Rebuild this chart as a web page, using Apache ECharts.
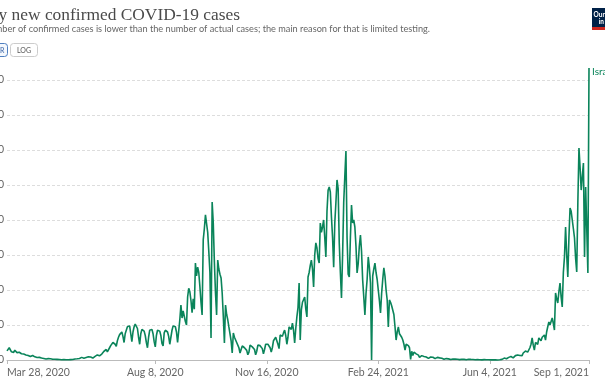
<!DOCTYPE html>
<html>
<head>
<meta charset="utf-8">
<script src="https://cdn.jsdelivr.net/npm/echarts@6/dist/echarts.min.js"></script>
<style>
html,body{margin:0;padding:0;background:#fff;}
#chart{width:605px;height:380px;}
</style>
</head>
<body>
<div id="chart"></div>
<script>
// ---- Data (Israel, daily new confirmed cases, from Mar 28, 2020 to Sep 1, 2021, one value per day) ----
const startDate = "2020-03-28";
const seriesName = "Israel";
const israelCases = [
  520, 600, 700, 640, 470, 520, 430,
  560, 480, 420, 380, 440, 510, 360,
  300, 340, 370, 290, 320, 260, 230,
  200, 230, 260, 190, 180, 170, 140,
  120, 150, 140, 110, 100, 90, 80,
  60, 90, 80, 70, 75, 50, 40,
  30, 45, 40, 35, 30, 25, 20,
  15, 25, 30, 20, 18, 15, 10,
  10, 20, 25, 30, 45, 60, 40,
  70, 110, 90, 120, 150, 130, 100,
  90, 140, 160, 180, 150, 170, 120,
  110, 180, 210, 260, 290, 310, 240,
  210, 340, 420, 500, 480, 600, 460,
  500, 700, 820, 900, 1000, 1050, 900,
  780, 1100, 1300, 1450, 1500, 1600, 1350,
  1000, 1500, 1700, 1900, 2000, 1950, 1500,
  1050, 1600, 1900, 2050, 2100, 1800, 1300,
  900, 1500, 1750, 1800, 1650, 1400, 1000,
  700, 1300, 1700, 1800, 1750, 1500, 1050,
  750, 1400, 1700, 1750, 1650, 1400, 950,
  800, 1550, 1700, 1750, 1600, 1350, 900,
  820, 1700, 1950, 2000, 1900, 1600, 1000,
  1000, 2300, 3140, 2400, 2800, 2900, 2200,
  2000, 3600, 4100, 3900, 3400, 2700, 3500,
  2900, 5540, 4800, 5310, 5000, 4200, 3300,
  2570, 6860, 7500, 8290, 8400, 7300, 6200,
  5000, 1260, 9030, 7830, 5600, 3830, 2570,
  5710, 5200, 4900, 4690, 3830, 2500, 970,
  3140, 2600, 2300, 1890, 1500, 1100, 400,
  1540, 1300, 1200, 1000, 850, 700, 400,
  500, 800, 750, 700, 650, 550, 300,
  450, 850, 800, 750, 700, 600, 300,
  500, 850, 800, 820, 750, 650, 350,
  600, 900, 950, 900, 850, 700, 450,
  700, 1100, 1200, 1300, 1100, 900, 650,
  1430, 1500, 1350, 1550, 1710, 1400, 900,
  1300, 1890, 2000, 1750, 2100, 1700, 970,
  1800, 2460, 3000, 4400, 1140, 2860, 3300,
  3400, 3600, 2900, 2460, 4740, 5000, 5400,
  5710, 5200, 4170, 6000, 6690, 6400, 5800,
  5540, 7830, 7300, 7600, 8000, 7000, 5890,
  8500, 9700, 9890, 9600, 8170, 7000, 5300,
  7830, 9000, 10290, 9800, 6690, 5000, 3540,
  6000, 9000, 10500, 11940, 7000, 4900, 4740,
  7000, 8860, 7830, 8000, 7600, 6500, 4970,
  5500, 6500, 7140, 6200, 4570, 3600, 2570,
  3800, 4600, 5890, 5300, 4400, 0, 4800,
  5200, 5540, 5000, 4600, 4000, 3400, 2690,
  3800, 4600, 5260, 4800, 4000, 3430, 1890,
  3430, 3300, 3100, 3030, 2600, 1900, 1140,
  1600, 1890, 1500, 1400, 1300, 1140, 900,
  570, 900, 860, 820, 700, 40, 500,
  250, 450, 400, 350, 300, 280, 150,
  130, 250, 230, 200, 190, 170, 100,
  90, 180, 170, 150, 160, 130, 80,
  70, 150, 140, 120, 110, 100, 50,
  40, 90, 80, 70, 65, 55, 30,
  30, 60, 55, 50, 45, 40, 20,
  20, 50, 45, 40, 35, 30, 15,
  20, 45, 40, 35, 40, 30, 15,
  15, 30, 25, 20, 18, 15, 8,
  10, 20, 18, 15, 12, 10, 5,
  8, 15, 12, 10, 8, 6, 4,
  5, 12, 20, 35, 60, 110, 80,
  70, 130, 150, 170, 200, 190, 120,
  230, 250, 280, 290, 300, 260, 180,
  250, 400, 450, 510, 480, 450, 400,
  700, 900, 1260, 850, 570, 1000, 1100,
  900, 1260, 1200, 1100, 1300, 1350, 1430,
  1140, 1600, 1900, 2170, 2000, 2200, 2400,
  2100, 1710, 3830, 3500, 3260, 3900, 4400,
  3600, 3030, 5000, 5890, 7600, 6000, 4740,
  7000, 8690, 8500, 8400, 7500, 6970, 5800,
  5030, 9000, 12110, 11000, 9710, 10500, 11260,
  5890, 9890, 7500, 4970, 16690
];
const xTickLabels = ["Mar 28, 2020", "Aug 8, 2020", "Nov 16, 2020", "Feb 24, 2021", "Jun 4, 2021", "Sep 1, 2021"];
const yTicks = [0, 2000, 4000, 6000, 8000, 10000, 12000, 14000, 16000];
const titleText = "Daily new confirmed COVID-19 cases";
const subtitleText = "The number of confirmed cases is lower than the number of actual cases; the main reason for that is limited testing.";

// ---- Build date categories ----
const MONTHS = ["Jan","Feb","Mar","Apr","May","Jun","Jul","Aug","Sep","Oct","Nov","Dec"];
const t0 = Date.parse(startDate + "T00:00:00Z");
const dates = israelCases.map((_, i) => {
  const d = new Date(t0 + i * 86400000);
  return MONTHS[d.getUTCMonth()] + " " + d.getUTCDate() + ", " + d.getUTCFullYear();
});
const isTick = (idx, val) => xTickLabels.indexOf(dates[idx]) >= 0;

const lineColor = "#0a845a";
const chart = echarts.init(document.getElementById("chart"), null, {renderer: "canvas"});
chart.setOption({
  animation: false,
  backgroundColor: "#fff",
  grid: {left: 7, right: 16, top: 80, bottom: 20, containLabel: false, outerBoundsMode: "none"},
  xAxis: {
    type: "category",
    data: dates,
    boundaryGap: false,
    axisLine: {lineStyle: {color: "#bbb", width: 1}},
    axisTick: {show: true, interval: isTick, length: 4, lineStyle: {color: "#bbb"}},
    axisLabel: {
      interval: isTick,
      showMinLabel: true,
      showMaxLabel: true,
      hideOverlap: false,
      color: "#666",
      fontFamily: "Lato",
      fontSize: 10.5,
      margin: 7,
      alignMinLabel: "left",
      alignMaxLabel: "right"
    },
    splitLine: {show: false}
  },
  yAxis: {
    type: "value",
    min: yTicks[0],
    max: yTicks[yTicks.length - 1],
    interval: yTicks[1] - yTicks[0],
    axisLine: {show: false},
    axisTick: {show: false},
    axisLabel: {
      color: "#666",
      fontFamily: "Lato",
      fontSize: 10.5,
      margin: 3,
      formatter: v => v.toLocaleString("en-US")
    },
    splitLine: {show: true, lineStyle: {color: "#ddd", type: [3, 2], width: 1}}
  },
  series: [{
    name: seriesName,
    type: "line",
    data: israelCases,
    showSymbol: false,
    clip: false,
    lineStyle: {color: lineColor, width: 1.6},
    itemStyle: {color: lineColor},
    endLabel: {
      show: true,
      formatter: seriesName,
      color: lineColor,
      fontFamily: "Lato",
      fontSize: 10,
      distance: 3,
      offset: [0, 4]
    }
  }],
  graphic: [
    {type: "text", x: 240, y: 15, style: {text: titleText, align: "right", verticalAlign: "middle", fill: "#4a4a4a", font: "17.4px 'Liberation Serif', 'DejaVu Serif', serif"}},
    {type: "text", x: 430, y: 29, style: {text: subtitleText, align: "right", verticalAlign: "middle", fill: "#666", font: "9.2px Lato, sans-serif"}},
    {type: "rect", shape: {x: -32.5, y: 43.5, width: 40, height: 13, r: 3}, style: {fill: "#f4f8fd", stroke: "#4f7fc0", lineWidth: 1}},
    {type: "text", x: 4.5, y: 50.5, style: {text: "LINEAR", align: "right", verticalAlign: "middle", fill: "#3a63a6", font: "7px Lato, sans-serif"}},
    {type: "rect", shape: {x: 10.5, y: 43.5, width: 27, height: 13, r: 3}, style: {fill: "#fff", stroke: "#ccc", lineWidth: 1}},
    {type: "text", x: 24, y: 50.5, style: {text: "LOG", align: "center", verticalAlign: "middle", fill: "#555", font: "7px Lato, sans-serif"}},
    {type: "rect", shape: {x: 592, y: 8, width: 40, height: 19}, style: {fill: "#002147"}},
    {type: "rect", shape: {x: 592, y: 27, width: 40, height: 3}, style: {fill: "#ce261e"}},
    {type: "text", x: 609, y: 14.5, style: {text: "Our World", align: "center", verticalAlign: "middle", fill: "#fff", font: "bold 6.5px Lato, sans-serif"}},
    {type: "text", x: 609, y: 21.5, style: {text: "in Data", align: "center", verticalAlign: "middle", fill: "#fff", font: "bold 6.5px Lato, sans-serif"}}
  ]
});
</script>
</body>
</html>
